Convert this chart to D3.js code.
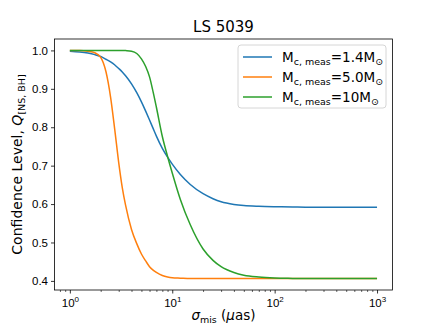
<!DOCTYPE html>
<html>
<head>
<meta charset="utf-8">
<script src="https://cdn.jsdelivr.net/npm/d3@7"></script>
<style>
  body { margin: 0; background: #fff; }
  svg { font-family: "DejaVu Sans", sans-serif; }
</style>
</head>
<body>
<div id="chart"></div>
<script>
// sigma_mis values (uas) where the curves were read
const sigma = [1, 1.25, 1.5, 1.75, 2, 2.25, 2.5, 2.75, 3, 3.25, 3.5, 4, 4.5, 5, 5.5, 6, 6.5, 7, 8, 9, 10, 12, 15, 20, 25, 30, 40, 50, 70, 100, 150, 200, 300, 500, 1000];

const q14 = [0.998, 0.996, 0.993, 0.989, 0.984, 0.977, 0.970, 0.962, 0.953, 0.944, 0.934, 0.913, 0.890, 0.866, 0.842, 0.819, 0.797, 0.777, 0.745, 0.722, 0.704, 0.677, 0.651, 0.627, 0.614, 0.606, 0.599, 0.596, 0.594, 0.593, 0.5925, 0.592, 0.592, 0.592, 0.592];
const q50 = [1.0, 1.0, 0.998, 0.994, 0.982, 0.945, 0.878, 0.792, 0.708, 0.643, 0.597, 0.534, 0.497, 0.470, 0.452, 0.437, 0.428, 0.422, 0.414, 0.410, 0.408, 0.407, 0.406, 0.406, 0.406, 0.406, 0.406, 0.406, 0.406, 0.406, 0.406, 0.406, 0.406, 0.406, 0.406];
const q10 = [1.0, 1.0, 1.0, 1.0, 1.0, 1.0, 1.0, 1.0, 1.0, 1.0, 0.9995, 0.998, 0.992, 0.978, 0.958, 0.931, 0.892, 0.852, 0.776, 0.724, 0.681, 0.612, 0.546, 0.483, 0.4535, 0.437, 0.4218, 0.4148, 0.410, 0.4075, 0.4065, 0.406, 0.406, 0.406, 0.406];

const seriesNames = ["1.4", "5.0", "10"];
const xTicks = [1, 10, 100, 1000];
const yTicks = [0.4, 0.5, 0.6, 0.7, 0.8, 0.9, 1.0];

const
    width = 436,
    height = 326,
    margin = { top: 39, right: 43.6, bottom: 36, left: 54.5 },
    svg = d3.select("#chart").append("svg").attr("width", width).attr("height", height);

var colors = ["#1f77b4", "#ff7f0e", "#2ca02c"];

var x = d3.scaleLog()
    .domain([Math.pow(10, -0.15), Math.pow(10, 3.15)])
    .range([margin.left, width - margin.right]);

var y = d3.scaleLinear()
    .domain([0.3763, 1.0297])
    .range([height - margin.bottom, margin.top]);

// minor ticks on the log axis
var minor = [];
[0.1, 1, 10, 100, 1000].forEach(dec => {
    for (let k = 2; k <= 9; k++) {
        let v = dec * k;
        if (v > x.domain()[0] && v < x.domain()[1]) minor.push(v);
    }
});

svg.append("g")
    .attr("transform", `translate(0,${height - margin.bottom})`)
    .call(d3.axisBottom(x).tickValues(minor).tickSize(2).tickFormat(""))
    .call(g => g.select(".domain").remove())
    .call(g => g.selectAll("line").attr("stroke", "#000").attr("stroke-width", 0.6));

var xg = svg.append("g")
    .attr("transform", `translate(0,${height - margin.bottom})`)
    .call(d3.axisBottom(x).tickValues(xTicks).tickSize(3.5).tickPadding(3).tickFormat(""))
    .call(g => g.select(".domain").remove())
    .call(g => g.selectAll("line").attr("stroke", "#000").attr("stroke-width", 0.8));

xg.selectAll(".tick").append("text")
    .attr("y", 17)
    .attr("fill", "#000")
    .attr("text-anchor", "middle")
    .style("font-size", "11.5px")
    .each(function (d) {
        let t = d3.select(this);
        t.append("tspan").text("10");
        t.append("tspan").attr("dy", -5).style("font-size", "8px").text(Math.round(Math.log10(d)));
    });

svg.append("g")
    .attr("transform", `translate(${margin.left},0)`)
    .call(d3.axisLeft(y).tickValues(yTicks).tickSize(3.5).tickPadding(3).tickFormat(d3.format(".1f")))
    .call(g => g.select(".domain").remove())
    .call(g => g.selectAll("line").attr("stroke", "#000").attr("stroke-width", 0.8))
    .call(g => g.selectAll("text").attr("fill", "#000").style("font-size", "11.5px"));

var line = d3.line()
    .x(d => x(d[0]))
    .y(d => y(d[1]))
    .curve(d3.curveMonotoneX);

[q14, q50, q10].forEach((vals, i) => {
    svg.append("path")
        .datum(sigma.map((s, j) => [s, vals[j]]))
        .attr("fill", "none")
        .attr("stroke", colors[i])
        .attr("stroke-width", 1.5)
        .attr("stroke-linejoin", "round")
        .attr("d", line);
});

// frame
svg.append("rect")
    .attr("x", margin.left)
    .attr("y", margin.top)
    .attr("width", width - margin.right - margin.left)
    .attr("height", height - margin.bottom - margin.top)
    .attr("fill", "none")
    .attr("stroke", "#000")
    .attr("stroke-width", 0.8);

// title
svg.append("text")
    .attr("x", (margin.left + width - margin.right) / 2)
    .attr("y", 32)
    .attr("text-anchor", "middle")
    .style("font-size", "15px")
    .text("LS 5039");

// x label
var xl = svg.append("text")
    .attr("x", (margin.left + width - margin.right) / 2)
    .attr("y", 320)
    .attr("text-anchor", "middle")
    .style("font-size", "13.5px");
xl.append("tspan").style("font-style", "italic").text("σ");
xl.append("tspan").attr("dy", 3).style("font-size", "9.5px").text("mis");
xl.append("tspan").attr("dy", -3).text(" (");
xl.append("tspan").style("font-style", "italic").text("μ");
xl.append("tspan").text("as)");

// y label
var yl = svg.append("text")
    .attr("transform", `translate(22,${(margin.top + height - margin.bottom) / 2}) rotate(-90)`)
    .attr("text-anchor", "middle")
    .style("font-size", "14px");
yl.append("tspan").text("Confidence Level, ");
yl.append("tspan").style("font-style", "italic").text("Q");
yl.append("tspan").attr("dy", 3).style("font-size", "9.5px").text("[NS, BH]");

// legend
var lg = svg.append("g").attr("transform", "translate(238,45)");
lg.append("rect")
    .attr("width", 148)
    .attr("height", 63)
    .attr("rx", 3)
    .attr("fill", "#fff")
    .attr("fill-opacity", 0.8)
    .attr("stroke", "#ccc")
    .attr("stroke-width", 0.8);

seriesNames.forEach((n, i) => {
    let yy = 12 + i * 20;
    lg.append("line")
        .attr("x1", 5).attr("x2", 34)
        .attr("y1", yy).attr("y2", yy)
        .attr("stroke", colors[i])
        .attr("stroke-width", 1.5);
    let t = lg.append("text")
        .attr("x", 44)
        .attr("y", yy + 5)
        .style("font-size", "13.5px");
    t.append("tspan").text("M");
    t.append("tspan").attr("dy", 3).style("font-size", "9.5px").text("c, meas");
    t.append("tspan").attr("dy", -3).text("=" + n + "M");
    t.append("tspan").attr("dy", 3).style("font-size", "9.5px").text("⊙");
});
</script>
</body>
</html>
